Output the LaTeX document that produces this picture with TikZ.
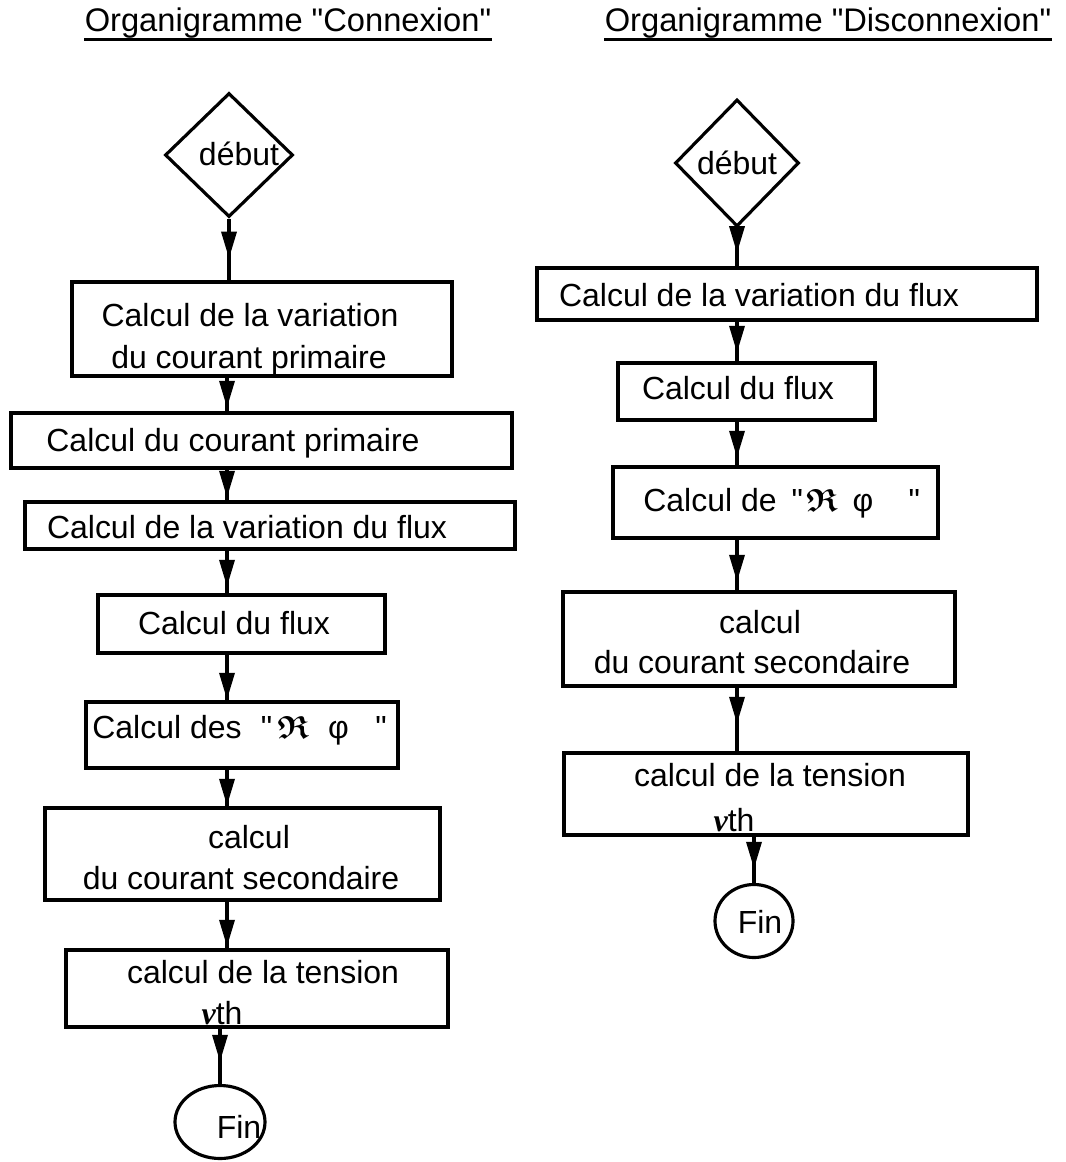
\documentclass[tikz,border=0pt]{standalone}
\usepackage{amsmath}
\usepackage{amssymb}
\usepackage{fontspec}
\setmainfont{Liberation Sans}[Ligatures=TeXOff]
\newfontfamily\nufont{Liberation Serif}
\usetikzlibrary{
  arrows.meta,          % pointes Triangle
  decorations.markings, % pointe au milieu du trait
  shapes.geometric,     % losange et ellipse
  fit                   % boites ajustees sur deux coins
}

\newcommand{\nuth}{{\nufont\bfseries\itshape ν}th}
\newcommand{\rfrak}{{\boldmath$\mathfrak{R}$}}

\tikzset{
  boite/.style={draw, line width=2pt, inner sep=0pt},
  losange/.style={draw, diamond, line width=1.8pt, inner sep=0pt},
  rond/.style={draw, ellipse, line width=1.8pt, inner sep=0pt},
  texte/.style={anchor=base, inner sep=0pt, font=\fontsize{18.2}{22}\selectfont},
  titre/.style={anchor=base, inner sep=0pt, font=\fontsize{18.6}{22}\selectfont},
  fleche/.style={line width=2pt, postaction={decorate},
    decoration={markings,
      mark=at position #1 with {\arrow{Triangle[width=0.3cm, length=0.54cm]}}}},
  fleche/.default=0.72cm,
}

\begin{document}
\begin{tikzpicture}[x=0.02cm, y=-0.02cm]
  \useasboundingbox (0,0) rectangle (1065,1162);
  \def\pxl{0.02cm}

  % titres
  \node[titre] (titreG) at (288,32) {Organigramme "Connexion"};
  \node[titre] (titreD) at (828,32) {Organigramme "Disconnexion"};
  \draw[line width=1.6pt] (titreG.south west) -- (titreG.south east);
  \draw[line width=1.6pt] (titreD.south west) -- (titreD.south east);

  % organigramme "Connexion"
  \coordinate (axeG) at (227,0);
  \node[losange, minimum width={128*\pxl}, minimum height={124*\pxl}] (debutG) at (229,155) {};
  \node[texte] at (239,166) {début};
  \node[boite, fit={(72,282) (452,376)}] (g1) {};
  \node[texte] at (250,326) {Calcul de la variation};
  \node[texte] at (249,368) {du courant primaire};
  \node[boite, fit={(11,413) (512,468)}] (g2) {};
  \node[texte] at (233,451) {Calcul du courant primaire};
  \node[boite, fit={(25,502) (515,549)}] (g3) {};
  \node[texte] at (247,538) {Calcul de la variation du flux};
  \node[boite, fit={(98,595) (385,653)}] (g4) {};
  \node[texte] at (234,634) {Calcul du flux};
  \node[boite, fit={(86,702) (398,768)}] (g5) {};
  \node[texte, anchor=base west] at (92,738)
    {Calcul des\hspace{11pt}"\hspace{3pt}\rfrak\hspace{11pt}φ\hspace{15pt}"};
  \node[boite, fit={(45,808) (440,900)}] (g6) {};
  \node[texte] at (249,848) {calcul};
  \node[texte] at (241,889) {du courant secondaire};
  \node[boite, fit={(66,950) (448,1027)}] (g7) {};
  \node[texte] at (263,983) {calcul de la tension};
  \node[texte] at (222,1024) {\nuth};
  \node[rond, minimum width={90*\pxl}, minimum height={73*\pxl}] (finG) at (220,1122) {};
  \node[texte] at (239,1138) {Fin};

  \draw[fleche=0.8cm] (debutG.south) -- (g1.north -| debutG.south);
  \draw[fleche=0.6cm] (g1.south -| axeG) -- (g2.north -| axeG);
  \draw[fleche=0.56cm] (g2.south -| axeG) -- (g3.north -| axeG);
  \draw[fleche] (g3.south -| axeG) -- (g4.north -| axeG);
  \draw[fleche=0.9cm] (g4.south -| axeG) -- (g5.north -| axeG);
  \draw[fleche] (g5.south -| axeG) -- (g6.north -| axeG);
  \draw[fleche=0.9cm] (g6.south -| axeG) -- (g7.north -| axeG);
  \draw[fleche=0.66cm] (g7.south -| finG.north) -- (finG.north);

  % organigramme "Disconnexion"
  \coordinate (axeD) at (737,0);
  \node[losange, minimum width={124*\pxl}, minimum height={127*\pxl}] (debutD) at (737,163) {};
  \node[texte] at (737,174) {début};
  \node[boite, fit={(537,268) (1037,320)}] (d1) {};
  \node[texte] at (759,306) {Calcul de la variation du flux};
  \node[boite, fit={(618,363) (875,420)}] (d2) {};
  \node[texte] at (738,399) {Calcul du flux};
  \node[boite, fit={(613,467) (938,538)}] (d3) {};
  \node[texte, anchor=base west] at (643,511)
    {Calcul de\hspace{8.5pt}"\hspace{2pt}\rfrak\hspace{8.5pt}φ\hspace{20pt}"};
  \node[boite, fit={(563,592) (955,686)}] (d4) {};
  \node[texte] at (760,633) {calcul};
  \node[texte] at (752,673) {du courant secondaire};
  \node[boite, fit={(564,753) (968,835)}] (d5) {};
  \node[texte] at (770,786) {calcul de la tension};
  \node[texte] at (734,831) {\nuth};
  \node[rond, minimum width={78*\pxl}, minimum height={73*\pxl}] (finD) at (754,921) {};
  \node[texte] at (760,933) {Fin};

  \draw[fleche=0.5cm] (debutD.south) -- (d1.north -| debutD.south);
  \draw[fleche=0.62cm] (d1.south -| axeD) -- (d2.north -| axeD);
  \draw[fleche] (d2.south -| axeD) -- (d3.north -| axeD);
  \draw[fleche=0.84cm] (d3.south -| axeD) -- (d4.north -| axeD);
  \draw[fleche] (d4.south -| axeD) -- (d5.north -| axeD);
  \draw[fleche=0.64cm] (d5.south -| finD.north) -- (finD.north);
\end{tikzpicture}
\end{document}
